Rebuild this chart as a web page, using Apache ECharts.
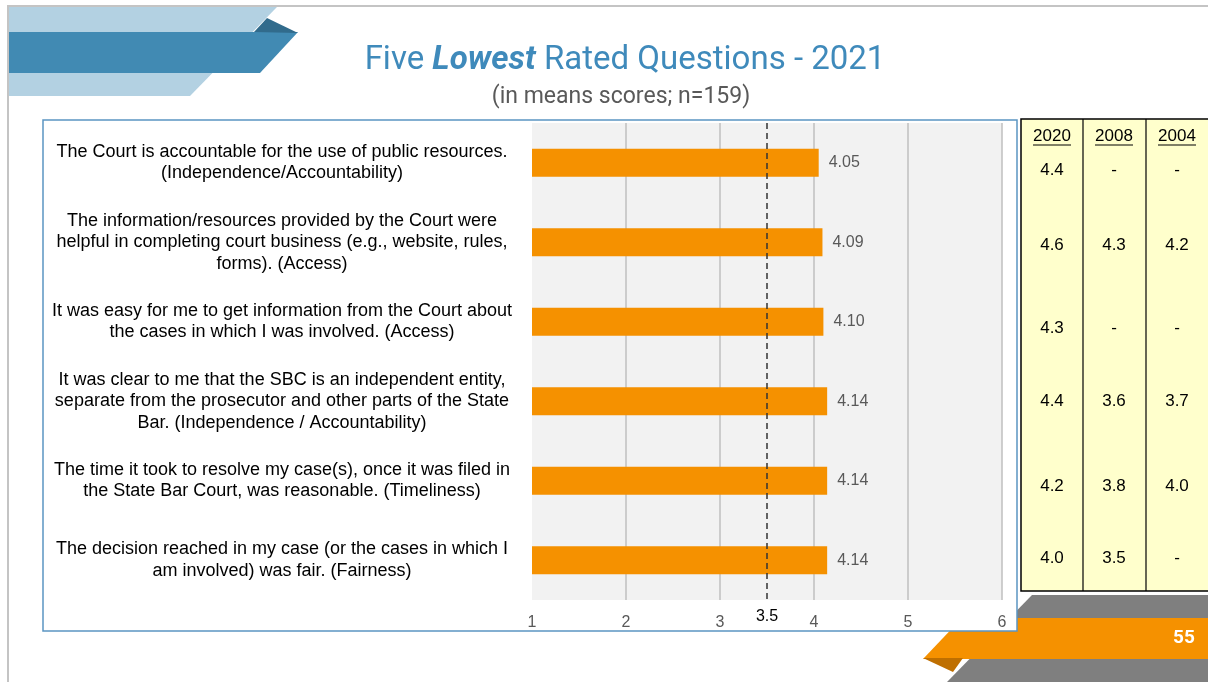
<!DOCTYPE html>
<html>
<head>
<meta charset="utf-8">
<script src="https://cdn.jsdelivr.net/npm/echarts@6/dist/echarts.min.js"></script>
<style>
  html, body { margin: 0; padding: 0; background: #fff; }
  #chart { width: 1208px; height: 682px; }
</style>
</head>
<body>
<div id="chart"></div>
<script>
const questions = [
  "The Court is accountable for the use of public resources.\n(Independence/Accountability)",
  "The information/resources provided by the Court were\nhelpful in completing court business (e.g., website, rules,\nforms). (Access)",
  "It was easy for me to get information from the Court about\nthe cases in which I was involved. (Access)",
  "It was clear to me that the SBC is an independent entity,\nseparate from the prosecutor and other parts of the State\nBar. (Independence / Accountability)",
  "The time it took to resolve my case(s), once it was filed in\nthe State Bar Court, was reasonable. (Timeliness)",
  "The decision reached in my case (or the cases in which I\nam involved) was fair. (Fairness)"
];
const scores2021 = [4.05, 4.09, 4.10, 4.14, 4.14, 4.14];
const benchmark = 3.5;

// comparison table
const tableYears = ["2020", "2008", "2004"];
const scores2020 = ["4.4", "4.6", "4.3", "4.4", "4.2", "4.0"];
const scores2008 = ["-", "4.3", "-", "3.6", "3.8", "3.5"];
const scores2004 = ["-", "4.2", "-", "3.7", "4.0", "-"];
const pageNumber = "55";

const chart = echarts.init(document.getElementById("chart"));
const arial = "'Liberation Sans', Arial";

// table layout
const colX = [1052, 1114, 1177];
const rowY = [170, 245, 328, 401, 486, 558];
const cellFont = "17px " + arial;
const tableText = [];
tableYears.forEach((y, i) => {
  tableText.push({
    type: "text", x: colX[i], y: 136, z: 5,
    style: { text: y, fill: "#000", font: cellFont, align: "center", verticalAlign: "middle" }
  });
  tableText.push({
    type: "line", z: 5,
    shape: { x1: colX[i] - 19, y1: 145, x2: colX[i] + 19, y2: 145 },
    style: { stroke: "#000", lineWidth: 1 }
  });
});
[scores2020, scores2008, scores2004].forEach((col, i) => {
  col.forEach((v, r) => {
    tableText.push({
      type: "text", x: colX[i], y: rowY[r], z: 5,
      style: { text: v, fill: "#000", font: cellFont, align: "center", verticalAlign: "middle" }
    });
  });
});

const titleBlue = "#3f8abb";
const decorations = [
  // page frame
  { type: "polyline", z: -20, shape: { points: [[8, 682], [8, 6], [1208, 6]] }, style: { stroke: "#c4c4c4", lineWidth: 2, fill: null } },
  // top-left ribbon
  { type: "polygon", z: -15, shape: { points: [[9, 7], [277, 7], [190, 96], [9, 96]] }, style: { fill: "#b3d1e2" } },
  { type: "polygon", z: -14, shape: { points: [[9, 32], [298, 32], [260, 73], [9, 73]] }, style: { fill: "#418ab3" } },
  { type: "polygon", z: -13, shape: { points: [[254, 32], [267, 18], [298, 33]] }, style: { fill: "#316b8c" } },
  // bottom-right ribbon
  { type: "polygon", z: -15, shape: { points: [[1032, 595], [1208, 595], [1208, 682], [947, 682]] }, style: { fill: "#7f7f7f" } },
  { type: "polygon", z: -14, shape: { points: [[962, 618], [1208, 618], [1208, 659], [923, 659]] }, style: { fill: "#f59100" } },
  { type: "polygon", z: -13, shape: { points: [[923, 658], [963, 658], [953, 672]] }, style: { fill: "#bf6f00" } },
  { type: "text", x: 1184, y: 638, z: 5, style: { text: pageNumber, fill: "#fff", font: "bold 19px Roboto", align: "center", verticalAlign: "middle" } },
  // chart box
  { type: "rect", z: -12, shape: { x: 43, y: 120, width: 974, height: 511 }, style: { fill: "#fff", stroke: "#5b95c2", lineWidth: 1.5 } },
  // table
  { type: "rect", z: -12, shape: { x: 1021, y: 119, width: 200, height: 472 }, style: { fill: "#ffffcc", stroke: "#000", lineWidth: 1.5 } },
  { type: "line", z: -11, shape: { x1: 1083, y1: 119, x2: 1083, y2: 591 }, style: { stroke: "#000", lineWidth: 1.2 } },
  { type: "line", z: -11, shape: { x1: 1146, y1: 119, x2: 1146, y2: 591 }, style: { stroke: "#000", lineWidth: 1.2 } },
  // title
  {
    type: "text", x: 625, y: 61, z: 5,
    style: {
      text: "{n|Five }{b|Lowest}{n| Rated Questions - 2021}",
      align: "center", verticalAlign: "middle",
      rich: {
        n: { fontFamily: "Roboto", fontSize: 33, fill: titleBlue },
        b: { fontFamily: "Roboto", fontSize: 33, fontWeight: "bold", fontStyle: "italic", fill: titleBlue }
      }
    }
  },
  { type: "text", x: 621, y: 97, z: 5, style: { text: "(in means scores; n=159)", fill: "#595959", font: "23px Roboto", align: "center", verticalAlign: "middle" } }
];

chart.setOption({
  animation: false,
  graphic: decorations.concat(tableText),
  grid: {
    left: 532, right: 206, top: 123, bottom: 82,
    show: true, backgroundColor: "#f2f2f2", borderWidth: 0
  },
  xAxis: {
    type: "value", min: 1, max: 6, interval: 1,
    axisLine: { show: false },
    axisTick: { show: false },
    axisLabel: { color: "#595959", fontSize: 16, fontFamily: arial, margin: 15 },
    splitLine: { showMinLine: false, lineStyle: { color: "#bfbfbf", width: 1.5 } }
  },
  yAxis: {
    type: "category", inverse: true, data: questions,
    axisLine: { show: false },
    axisTick: { show: false },
    axisLabel: {
      align: "center", margin: 250, color: "#000",
      fontSize: 18, lineHeight: 21.5, fontFamily: arial
    }
  },
  series: [{
    type: "bar", data: scores2021, barWidth: 28,
    itemStyle: { color: "#f59100" },
    label: {
      show: true, position: "right", distance: 10,
      color: "#595959", fontSize: 16, fontFamily: arial,
      formatter: p => p.value.toFixed(2)
    },
    markLine: {
      symbol: "none", silent: true,
      data: [{ xAxis: benchmark }],
      lineStyle: { color: "#333", type: [6, 4], width: 1.5 },
      label: { position: "end", distance: 9, color: "#000", fontSize: 16, fontFamily: arial, formatter: "3.5" }
    }
  }]
});
</script>
</body>
</html>
